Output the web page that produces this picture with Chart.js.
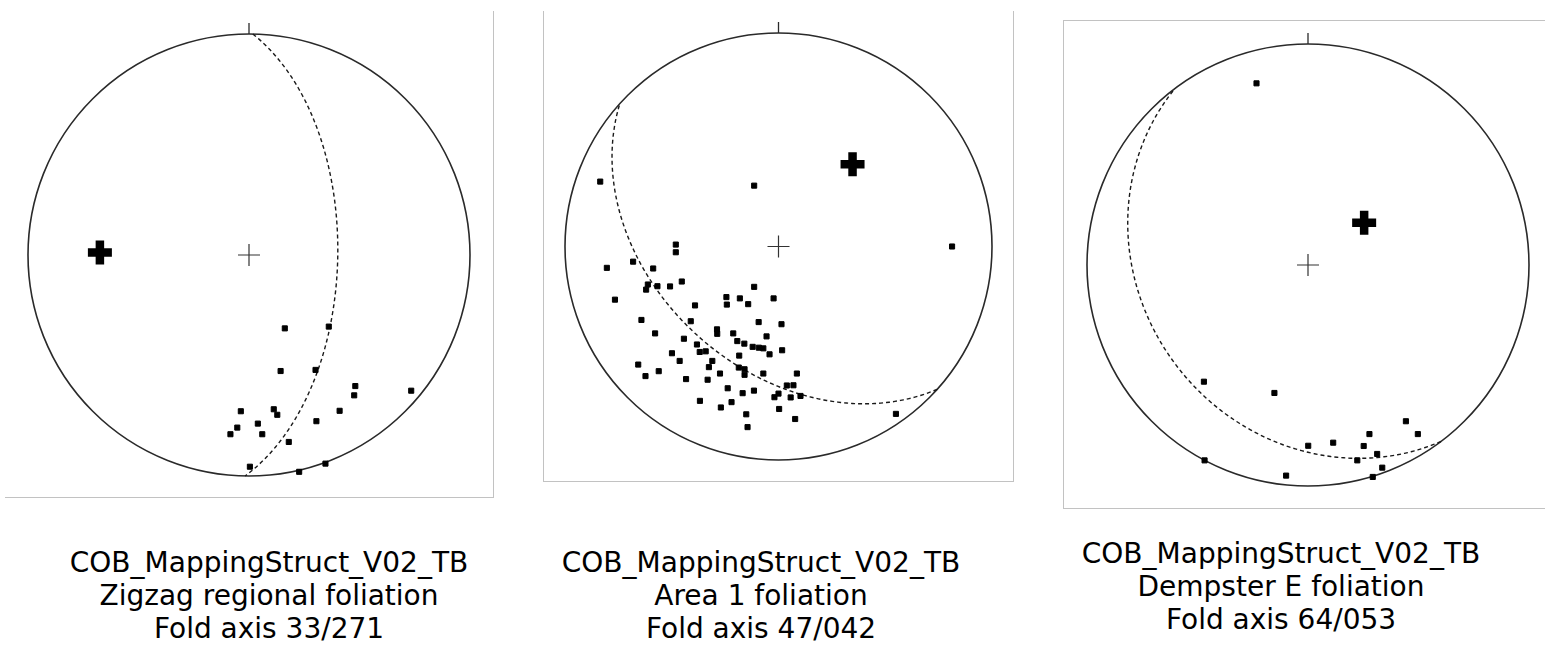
<!DOCTYPE html>
<html>
<head>
<meta charset="utf-8">
<title>Fold axis stereonets</title>
<script src="https://cdn.jsdelivr.net/npm/chart.js@4.4.0/dist/chart.umd.min.js"></script>
<style>
body{margin:0;background:#fff;width:1545px;height:646px;overflow:hidden;position:relative;font-family:"DejaVu Sans",Verdana,sans-serif}
.frame{position:absolute;box-sizing:border-box;border:0 solid #c2c2c2}
canvas{position:absolute}
.cap{position:absolute;width:560px;text-align:center;font-size:28px;line-height:33px;color:#000;white-space:nowrap}
</style>
</head>
<body>
<div class="frame" style="left:5px;top:11px;width:489px;height:487px;border-right-width:1px;border-bottom-width:1px"></div>
<div class="frame" style="left:543px;top:11px;width:471px;height:471px;border-left-width:1px;border-right-width:1px;border-bottom-width:1px"></div>
<div class="frame" style="left:1063px;top:20px;width:490px;height:489px;border-left-width:1px;border-top-width:1px;border-bottom-width:1px"></div>

<canvas id="net1"></canvas>
<canvas id="net2"></canvas>
<canvas id="net3"></canvas>

<div class="cap" id="cap1" style="left:-11px;top:546px"></div>
<div class="cap" id="cap2" style="left:481px;top:546px"></div>
<div class="cap" id="cap3" style="left:1001px;top:537px"></div>

<script>
/* three equal-area stereonets: poles to foliation + fold axis */
function $(id){return document.getElementById(id)}

const dataset = 'COB_MappingStruct_V02_TB';
const areas = ['Zigzag regional foliation', 'Area 1 foliation', 'Dempster E foliation'];
const foldPlunge = [33, 47, 64];
const foldTrend = [271, 42, 53];

const poles1 = [
  [0.162,-0.332],[0.361,-0.324],[0.143,-0.525],[0.301,-0.520],[0.481,-0.593],
  [0.476,-0.635],[0.734,-0.614],[-0.037,-0.707],[0.112,-0.698],[0.128,-0.723],
  [0.410,-0.705],[0.305,-0.752],[0.040,-0.763],[-0.053,-0.781],[-0.084,-0.811],
  [0.060,-0.811],[0.180,-0.846],[0.004,-0.958],[0.227,-0.981],[0.346,-0.944]
];
const poles2 = [
  [-0.835,0.304],[-0.114,0.285],[-0.481,0.009],[-0.481,-0.027],[-0.681,-0.071],
  [-0.804,-0.100],[-0.587,-0.103],[-0.453,-0.164],[-0.612,-0.178],[-0.620,-0.202],
  [-0.567,-0.186],[-0.508,-0.187],[-0.114,-0.189],[-0.766,-0.249],[-0.244,-0.237],
  [-0.181,-0.243],[-0.023,-0.243],[-0.242,-0.272],[-0.142,-0.270],[-0.391,-0.276],
  [-0.642,-0.344],[-0.411,-0.350],[-0.093,-0.354],[0.014,-0.364],[-0.288,-0.388],
  [-0.287,-0.409],[-0.578,-0.407],[-0.212,-0.407],[-0.443,-0.432],[-0.193,-0.443],
  [-0.160,-0.455],[-0.056,-0.421],[-0.121,-0.470],[-0.092,-0.474],[-0.071,-0.477],
  [-0.382,-0.459],[-0.369,-0.494],[-0.341,-0.491],[-0.499,-0.500],[-0.042,-0.505],
  [0.017,-0.486],[-0.463,-0.536],[-0.184,-0.511],[-0.310,-0.536],[-0.657,-0.553],
  [-0.623,-0.607],[-0.561,-0.584],[-0.326,-0.565],[-0.186,-0.567],[-0.159,-0.575],
  [-0.274,-0.595],[-0.159,-0.601],[-0.071,-0.595],[0.086,-0.595],[-0.433,-0.621],
  [-0.332,-0.624],[-0.238,-0.664],[0.039,-0.651],[0.070,-0.650],[-0.115,-0.675],
  [-0.168,-0.687],[-0.019,-0.706],[0.000,-0.689],[0.057,-0.707],[0.103,-0.700],
  [-0.368,-0.723],[-0.220,-0.729],[-0.270,-0.754],[0.003,-0.761],[-0.151,-0.786],
  [0.078,-0.808],[-0.145,-0.846],[0.813,0.000],[0.550,-0.784]
];
const poles3 = [
  [-0.233,0.822],[-0.471,-0.528],[-0.468,-0.884],[-0.152,-0.579],[0.443,-0.707],
  [0.278,-0.765],[0.497,-0.765],[0.114,-0.804],[0.001,-0.818],[0.252,-0.819],
  [0.313,-0.855],[0.223,-0.884],[0.336,-0.917],[-0.099,-0.953],[0.293,-0.959]
];

// where each net sits on the page
const nets = [
  {id:'net1', cx:248.5, cy:255, r:221},
  {id:'net2', cx:778, cy:246.5, r:213.5},
  {id:'net3', cx:1307.5, cy:265, r:221}
];
const PAD = 22;

const rad = d => d*Math.PI/180;

// lower hemisphere vector (east, north, down) -> equal-area x,y
function project(e, n, d){ const k = 1/Math.sqrt(1+d); return {x:e*k, y:n*k}; }

function lineToXY(plunge, trend){
  const p = rad(plunge), t = rad(trend);
  return project(Math.cos(p)*Math.sin(t), Math.cos(p)*Math.cos(t), Math.sin(p));
}

// great circle normal to the fold axis (the pi-girdle)
function girdle(plunge, trend){
  const p = rad(plunge), t = rad(trend);
  const u = [Math.cos(t), -Math.sin(t), 0];
  const v = [-Math.sin(p)*Math.sin(t), -Math.sin(p)*Math.cos(t), Math.cos(p)];
  const out = [];
  for(let a=0;a<=180;a+=1){
    const c = Math.cos(rad(a)), s = Math.sin(rad(a));
    out.push(project(u[0]*c+v[0]*s, u[1]*c+v[1]*s, Math.max(0, u[2]*c+v[2]*s)));
  }
  return out;
}

const netPlugin = {
  id: 'net',
  beforeDatasetsDraw(chart, args, opts){
    const ctx = chart.ctx, xs = chart.scales.x, ys = chart.scales.y;
    const cx = xs.getPixelForValue(0), cy = ys.getPixelForValue(0);
    const r = xs.getPixelForValue(1) - cx;
    ctx.save();
    ctx.strokeStyle = '#2a2a2a';
    ctx.lineWidth = 1.6;
    ctx.beginPath(); ctx.arc(cx, cy, r, 0, Math.PI*2); ctx.stroke();
    ctx.lineWidth = 1.3;
    ctx.beginPath(); ctx.moveTo(cx, cy-r); ctx.lineTo(cx, cy-r-11); ctx.stroke();
    ctx.strokeStyle = '#1a1a1a';
    ctx.lineWidth = 1.4;
    ctx.setLineDash([4, 3]);
    ctx.beginPath();
    girdle(opts.plunge, opts.trend).forEach((q, i) => {
      const px = xs.getPixelForValue(q.x), py = ys.getPixelForValue(q.y);
      if(i) ctx.lineTo(px, py); else ctx.moveTo(px, py);
    });
    ctx.stroke();
    ctx.restore();
  }
};

function drawNet(i, poles){
  const n = nets[i];
  const size = Math.round(2*n.r + 2*PAD);
  const cv = $(n.id);
  cv.width = size; cv.height = size;
  cv.style.width = size+'px'; cv.style.height = size+'px';
  cv.style.left = (n.cx - size/2)+'px';
  cv.style.top = (n.cy - size/2)+'px';

  new Chart(cv.getContext('2d'), {
    type: 'scatter',
    data: {
      datasets: [
        { label:'centre', data:[{x:0,y:0}], pointStyle:'cross', pointRadius:11,
          borderColor:'#333', borderWidth:1.2 },
        { label:'poles', data:poles.map(p=>({x:p[0], y:p[1]})), pointStyle:'rect',
          pointRadius:3.6, backgroundColor:'#000', borderColor:'#000', borderWidth:1 },
        { label:'fold axis', data:[lineToXY(foldPlunge[i], foldTrend[i])], pointStyle:'cross',
          pointRadius:12, borderColor:'#000', borderWidth:8.5 }
      ]
    },
    options: {
      responsive:false, animation:false, events:[],
      layout:{ padding:PAD },
      plugins:{ legend:{display:false}, tooltip:{enabled:false},
        net:{ plunge:foldPlunge[i], trend:foldTrend[i] } },
      scales:{
        x:{ type:'linear', min:-1, max:1, display:false },
        y:{ type:'linear', min:-1, max:1, display:false }
      }
    },
    plugins:[netPlugin]
  });

  const pad3 = s => String(s).padStart(3,'0');
  $('cap'+(i+1)).innerHTML = dataset + '<br>' + areas[i] + '<br>Fold axis ' +
    foldPlunge[i] + '/' + pad3(foldTrend[i]);
}

document.addEventListener('DOMContentLoaded', ()=>{
  drawNet(0, poles1);
  drawNet(1, poles2);
  drawNet(2, poles3);
});
</script>
</body>
</html>
